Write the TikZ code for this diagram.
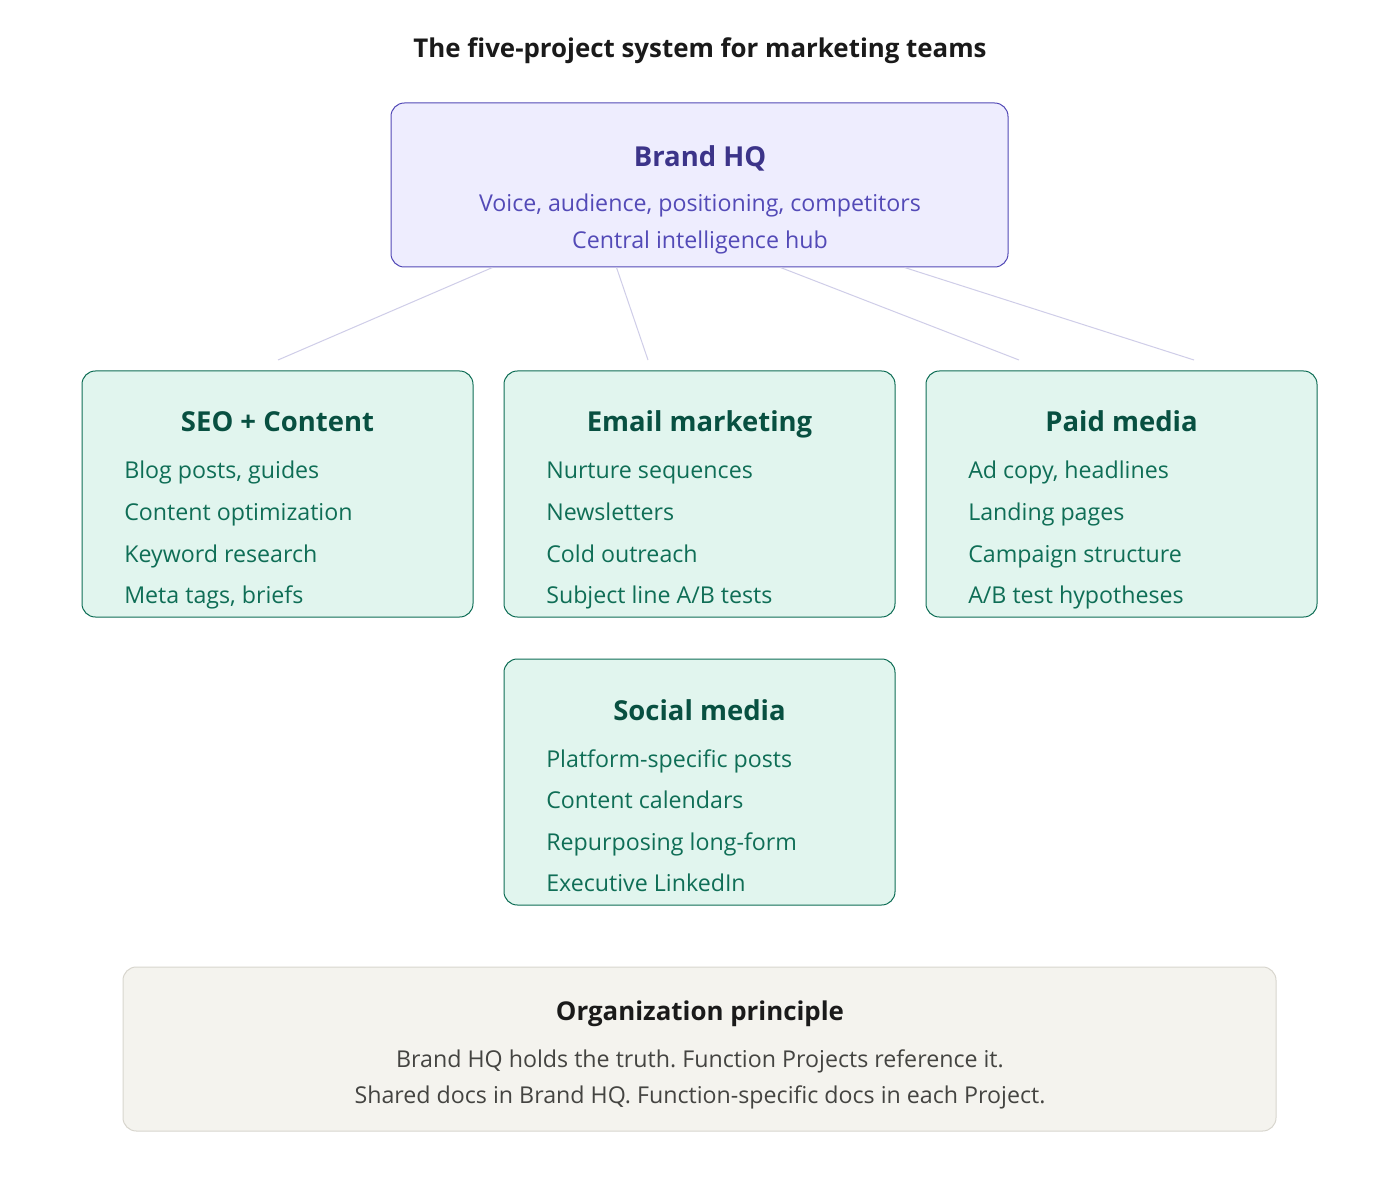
\documentclass[tikz,border=0pt]{standalone}
\usepackage{fontspec}
\setmainfont{Open Sans}
\frenchspacing
\definecolor{hqfill}{HTML}{EEEDFE}
\definecolor{hqdraw}{HTML}{534AB7}
\definecolor{hqtitle}{HTML}{3C3489}
\definecolor{hqtext}{HTML}{534AB7}
\definecolor{gfill}{HTML}{E1F5EE}
\definecolor{gdraw}{HTML}{0F6E56}
\definecolor{gtitle}{HTML}{085041}
\definecolor{gtext}{HTML}{0F6E56}
\definecolor{ofill}{HTML}{F4F3EE}
\definecolor{odraw}{HTML}{D8D6CE}
\definecolor{otitle}{HTML}{1A1A1A}
\definecolor{otext}{HTML}{444441}
\definecolor{link}{HTML}{CFCDE8}
\begin{document}
\frenchspacing
\begin{tikzpicture}[x=0.75pt,y=-0.75pt,
  box/.style={rounded corners=10pt,line width=0.75pt,inner sep=0pt},
  hqbox/.style={box,draw=hqdraw,fill=hqfill},
  gbox/.style={box,draw=gdraw,fill=gfill},
  obox/.style={box,draw=odraw,fill=ofill},
  ttl/.style={anchor=base,inner sep=0pt,font=\fontsize{20.6pt}{25pt}\selectfont\bfseries},
  bigttl/.style={anchor=base,inner sep=0pt,font=\fontsize{19.4pt}{24pt}\selectfont\bfseries},
  txt/.style={anchor=base,inner sep=0pt,font=\fontsize{17.4pt}{21pt}\selectfont},
  item/.style={anchor=base west,inner sep=0pt,font=\fontsize{17.4pt}{21pt}\selectfont,text=gtext},
  conn/.style={draw=link,line width=0.75pt}]
\useasboundingbox (0,0) rectangle (1400,1194);
\fill[white] (0,0) rectangle (1400,1194);

\node[bigttl,text=otitle] (title) at (700,58) {The five-project system for marketing teams};

% Brand HQ
\node[hqbox,minimum width=617*0.75pt,minimum height=164*0.75pt] (hq) at (699.5,185) {};
\node[ttl,text=hqtitle] (hqt) at (700,167) {Brand HQ};
\node[txt,text=hqtext] (hq1) at (700,212) {Voice, audience, positioning, competitors};
\node[txt,text=hqtext] (hq2) at (700,249) {Central intelligence hub};

% connectors
\coordinate (e1) at (278,360);
\coordinate (e2) at (648,360);
\coordinate (e3) at (1019,360);
\coordinate (e4) at (1194,360);
\draw[conn] (hq.south west) ++(102,0) coordinate (s1) -- (e1);
\draw[conn] (hq.south west) ++(226,0) coordinate (s2) -- (e2);
\draw[conn] (hq.south west) ++(390,0) coordinate (s3) -- (e3);
\draw[conn] (hq.south west) ++(514,0) coordinate (s4) -- (e4);

% SEO
\node[gbox,minimum width=391*0.75pt,minimum height=246*0.75pt] (seo) at (277.5,494) {};
\node[ttl,text=gtitle] (seot) at (277.5,432) {SEO + Content};
\node[item] (seo1) at (124,479) {Blog posts, guides};
\node[item] (seo2) at (124,520) {Content optimization};
\node[item] (seo3) at (124,562) {Keyword research};
\node[item] (seo4) at (124,603) {Meta tags, briefs};

% Email
\node[gbox,minimum width=391*0.75pt,minimum height=246*0.75pt] (email) at (699.5,494) {};
\node[ttl,text=gtitle] (emailt) at (699.5,432) {Email marketing};
\node[item] (em1) at (546,479) {Nurture sequences};
\node[item] (em2) at (546,520) {Newsletters};
\node[item] (em3) at (546,562) {Cold outreach};
\node[item] (em4) at (546,603) {Subject line A/B tests};

% Paid
\node[gbox,minimum width=391*0.75pt,minimum height=246*0.75pt] (paid) at (1121.5,494) {};
\node[ttl,text=gtitle] (paidt) at (1121.5,432) {Paid media};
\node[item] (pd1) at (968,479) {Ad copy, headlines};
\node[item] (pd2) at (968,520) {Landing pages};
\node[item] (pd3) at (968,562) {Campaign structure};
\node[item] (pd4) at (968,603) {A/B test hypotheses};

% Social
\node[gbox,minimum width=391*0.75pt,minimum height=246*0.75pt] (soc) at (699.5,782) {};
\node[ttl,text=gtitle] (soct) at (699.5,720) {Social media};
\node[item] (so1) at (546,767) {Platform-specific posts};
\node[item] (so2) at (546,808) {Content calendars};
\node[item] (so3) at (546,850) {Repurposing long-form};
\node[item] (so4) at (546,891) {Executive LinkedIn};

% Org principle
\node[obox,minimum width=1153*0.75pt,minimum height=164*0.75pt] (org) at (699.5,1049) {};
\node[bigttl,text=otitle] (orgt) at (700,1020) {Organization principle};
\node[txt,text=otext] (org1) at (700,1067) {Brand HQ holds the truth. Function Projects reference it.};
\node[txt,text=otext] (org2) at (700,1103) {Shared docs in Brand HQ. Function-specific docs in each Project.};
\end{tikzpicture}
\end{document}
